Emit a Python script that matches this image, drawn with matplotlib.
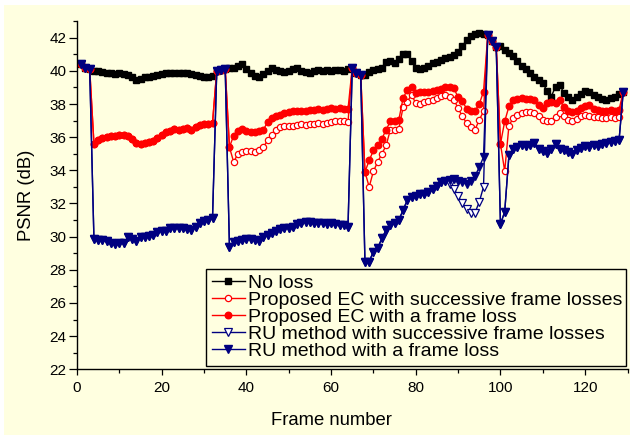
import numpy as np
import matplotlib
matplotlib.use('Agg')
import matplotlib.pyplot as plt
from matplotlib.patches import Rectangle
from matplotlib.ticker import MultipleLocator

plt.rcParams['font.family'] = ['Liberation Sans', 'DejaVu Sans']

BG = '#FFFFE0'
NAVY = '#000080'
RED = '#FF0000'

frames = np.arange(1, 130)

no_loss = [
    40.4, 40.2, 40.1, 40.0, 40.0, 39.95, 39.9, 39.85, 39.8, 39.85,
    39.8, 39.75, 39.6, 39.45, 39.5, 39.6, 39.65, 39.7, 39.75, 39.8,
    39.85, 39.9, 39.9, 39.85, 39.9, 39.85, 39.8, 39.75, 39.7, 39.65,
    39.65, 39.7, 40.0, 40.05, 40.1, 40.15, 40.2, 40.3, 40.4, 40.1,
    39.85, 39.7, 39.65, 39.8, 40.0, 40.15, 40.05, 40.0, 39.95, 40.0,
    40.1, 40.15, 40.0, 39.95, 39.9, 40.0, 40.05, 40.0, 40.05, 40.0,
    40.05, 40.05, 40.0, 40.1, 40.2, 39.85, 39.75, 39.75, 39.95, 40.05,
    40.1, 40.2, 40.55, 40.6, 40.45, 40.7, 41.0, 41.0, 40.6, 40.2,
    40.1, 40.15, 40.3, 40.5, 40.55, 40.65, 40.8, 40.85, 40.95, 41.15,
    41.5, 41.85, 42.1, 42.25, 42.3, 42.2, 42.15, 41.8, 41.45, 41.5,
    41.25, 41.05, 40.9, 40.6, 40.3, 40.1, 39.85, 39.65, 39.45, 39.25,
    38.8, 38.45, 39.05, 39.15, 38.65, 38.4, 38.25, 38.4, 38.6, 38.8,
    38.7, 38.55, 38.4, 38.3, 38.25, 38.35, 38.45, 38.6, 38.75,
]

ec_successive = [
    40.4, 40.2, 40.1, 35.6, 35.85, 35.95, 36.0, 36.05, 36.1, 36.15,
    36.15, 36.1, 35.9, 35.65, 35.6, 35.65, 35.7, 35.75, 35.95, 36.15,
    36.3, 36.4, 36.5, 36.45, 36.5, 36.55, 36.45, 36.6, 36.75, 36.8,
    36.8, 36.85, 40.0, 40.05, 40.1, 35.4, 34.5, 35.0, 35.1, 35.15,
    35.15, 35.1, 35.2, 35.4, 35.8, 36.15, 36.45, 36.6, 36.65, 36.7,
    36.7, 36.75, 36.8, 36.75, 36.8, 36.8, 36.85, 36.8, 36.85, 36.9,
    36.95, 37.0, 36.95, 36.9, 40.2, 39.85, 39.75, 33.9, 33.0, 33.95,
    34.5, 35.0, 35.5, 36.45, 36.45, 36.5, 37.8, 38.15, 38.55, 38.05,
    38.0, 38.1, 38.2, 38.25, 38.35, 38.5, 38.55, 38.45, 38.25, 37.75,
    37.25, 36.85, 36.6, 36.45, 37.05, 37.55, 42.15, 41.8, 41.45, 35.6,
    33.95, 36.7, 37.15, 37.35, 37.45, 37.5, 37.5, 37.45, 37.3, 37.05,
    36.95, 37.0, 37.2, 37.45, 37.3, 37.05, 37.0, 37.1, 37.25, 37.35,
    37.3, 37.2, 37.2, 37.15, 37.15, 37.2, 37.15, 37.2, 38.75,
]

ec_single = [
    40.4, 40.2, 40.1, 35.6, 35.85, 35.95, 36.0, 36.05, 36.1, 36.15,
    36.15, 36.1, 35.9, 35.65, 35.6, 35.65, 35.7, 35.75, 35.95, 36.15,
    36.3, 36.4, 36.5, 36.45, 36.5, 36.55, 36.45, 36.6, 36.75, 36.8,
    36.8, 36.85, 40.0, 40.05, 40.1, 35.4, 36.1, 36.35, 36.5, 36.35,
    36.3, 36.3, 36.4, 36.45, 36.9, 37.15, 37.25, 37.35, 37.45, 37.5,
    37.55, 37.6, 37.55, 37.6, 37.65, 37.65, 37.7, 37.65, 37.7, 37.75,
    37.7, 37.75, 37.7, 37.7, 40.2, 39.85, 39.75, 33.9, 34.6, 35.2,
    35.5, 35.9, 36.45, 36.95, 37.0, 37.05, 38.35, 38.85, 39.05, 38.65,
    38.7, 38.7, 38.75, 38.8, 38.85, 38.9, 39.0, 39.05, 38.95, 38.4,
    38.2, 37.7, 37.55, 37.6, 38.0, 38.75, 42.15, 41.8, 41.45, 35.6,
    36.95, 37.85, 38.25, 38.3, 38.35, 38.3, 38.3, 38.25, 37.95, 37.75,
    38.05, 38.1, 38.05, 38.25, 37.8, 37.55, 37.5, 37.55, 37.75, 37.9,
    37.95, 37.7, 37.65, 37.6, 37.6, 37.65, 37.6, 37.65, 38.75,
]

ru_successive = [
    40.4, 40.2, 40.1, 29.85, 29.8, 29.8, 29.75, 29.6, 29.55, 29.6,
    29.6, 29.95, 29.85, 29.75, 29.95, 30.0, 30.05, 30.1, 30.3, 30.35,
    30.35, 30.5, 30.55, 30.55, 30.5, 30.45, 30.4, 30.6, 30.85, 30.95,
    31.0, 31.1, 40.0, 40.05, 40.1, 29.4, 29.7, 29.75, 29.8, 29.85,
    29.85, 29.8, 29.75, 30.0, 30.1, 30.2, 30.35, 30.45, 30.5, 30.55,
    30.6, 30.75, 30.85, 30.9, 30.9, 30.85, 30.8, 30.8, 30.75, 30.8,
    30.75, 30.7, 30.7, 30.6, 40.2, 39.85, 39.75, 28.45, 28.5, 29.1,
    29.3, 29.9, 30.4, 30.7, 30.8, 31.0, 31.6, 32.2, 32.4, 32.45,
    32.55, 32.6, 32.7, 32.85, 33.05, 33.3, 33.35, 33.2, 32.9, 32.45,
    32.0, 31.65, 31.45, 31.45, 32.1, 33.0, 42.15, 41.8, 41.45, 30.75,
    31.5, 34.9, 35.3, 35.4, 35.5, 35.45, 35.5, 35.65, 35.3, 35.15,
    35.05, 35.3, 35.6, 35.3, 35.2, 35.1, 35.0, 35.2, 35.35, 35.45,
    35.4, 35.5, 35.45, 35.6, 35.65, 35.7, 35.75, 35.8, 38.75,
]

ru_single = [
    40.4, 40.2, 40.1, 29.85, 29.8, 29.8, 29.75, 29.6, 29.55, 29.6,
    29.6, 29.95, 29.85, 29.75, 29.95, 30.0, 30.05, 30.1, 30.3, 30.35,
    30.35, 30.5, 30.55, 30.55, 30.5, 30.45, 30.4, 30.6, 30.85, 30.95,
    31.0, 31.1, 40.0, 40.05, 40.1, 29.4, 29.7, 29.75, 29.8, 29.85,
    29.85, 29.8, 29.75, 30.0, 30.1, 30.2, 30.35, 30.45, 30.5, 30.55,
    30.6, 30.75, 30.85, 30.9, 30.9, 30.85, 30.8, 30.8, 30.75, 30.8,
    30.75, 30.7, 30.7, 30.6, 40.2, 39.85, 39.75, 28.45, 28.5, 29.1,
    29.3, 29.9, 30.4, 30.7, 30.8, 31.0, 31.6, 32.2, 32.4, 32.45,
    32.55, 32.6, 32.7, 32.85, 33.05, 33.3, 33.35, 33.4, 33.45, 33.35,
    33.3, 33.15, 33.35, 33.65, 34.2, 34.8, 42.15, 41.8, 41.45, 30.75,
    31.5, 34.9, 35.3, 35.4, 35.5, 35.45, 35.5, 35.65, 35.3, 35.15,
    35.05, 35.3, 35.6, 35.3, 35.2, 35.1, 35.0, 35.2, 35.35, 35.45,
    35.4, 35.5, 35.45, 35.6, 35.65, 35.7, 35.75, 35.8, 38.75,
]

labels = [
    'No loss',
    'Proposed EC with successive frame losses',
    'Proposed EC with a frame loss',
    'RU method with successive frame losses',
    'RU method with a frame loss',
]

fig = plt.figure(figsize=(6.3, 4.37), dpi=100)
fig.patch.set_facecolor('white')
fig.patches.append(Rectangle((4 / 630, 2 / 437), 626 / 630, 430 / 437,
                             transform=fig.transFigure, facecolor=BG,
                             edgecolor='none', zorder=-10))

ax = fig.add_axes([77 / 630, 67.7 / 437, 550.5 / 630, 348.2 / 437])
ax.set_facecolor(BG)

lw = 1.0
ax.plot(frames, no_loss, color='black', lw=lw, marker='s', ms=4.8,
        label=labels[0])
ax.plot(frames, ec_successive, color=RED, lw=lw, marker='o', ms=4.5,
        mfc='white', mec=RED, mew=0.9, label=labels[1])
ax.plot(frames, ec_single, color=RED, lw=lw, marker='o', ms=4.7,
        label=labels[2])
ax.plot(frames, ru_successive, color=NAVY, lw=lw, marker='v', ms=5.2,
        mfc='white', mec=NAVY, mew=0.9, label=labels[3])
ax.plot(frames, ru_single, color=NAVY, lw=lw, marker='v', ms=5.4,
        label=labels[4])

ax.set_xlim(0, 130)
ax.set_ylim(22, 43)
ax.xaxis.set_major_locator(MultipleLocator(20))
ax.xaxis.set_minor_locator(MultipleLocator(10))
ax.yaxis.set_major_locator(MultipleLocator(2))
ax.yaxis.set_minor_locator(MultipleLocator(1))

for side in ('top', 'right'):
    ax.spines[side].set_visible(False)
for side in ('left', 'bottom'):
    ax.spines[side].set_linewidth(1.0)

ax.tick_params(axis='x', which='major', direction='out', length=4.5,
               width=0.9, labelsize=11, pad=4)
ax.tick_params(axis='x', which='minor', direction='out', length=3, width=0.9)
ax.tick_params(axis='y', which='major', direction='out', length=6,
               width=0.9, labelsize=11, pad=1.5)
ax.tick_params(axis='y', which='minor', direction='out', length=3, width=0.9)

ax.set_xlabel('Frame number', fontsize=13.3)
ax.set_ylabel('PSNR (dB)', fontsize=13.3)
ax.xaxis.set_label_coords(0.463, -0.124)
ax.yaxis.set_label_coords(-0.076, 0.5)

# legend box spans roughly x 206..626 px, bottom just above the x axis
leg = ax.legend(loc='lower left', bbox_to_anchor=(0.2343, 0.0095, 0.763, 0.28),
                mode='expand', fontsize=14, frameon=True, fancybox=False,
                borderaxespad=0, borderpad=0.3, labelspacing=-0.03,
                handlelength=1.7, handletextpad=0.15, numpoints=1)
leg.get_frame().set_edgecolor('black')
leg.get_frame().set_linewidth(1.0)
leg.get_frame().set_facecolor(BG)
leg.get_frame().set_alpha(1)

fig.savefig('out.png', dpi=100, facecolor=fig.get_facecolor())
